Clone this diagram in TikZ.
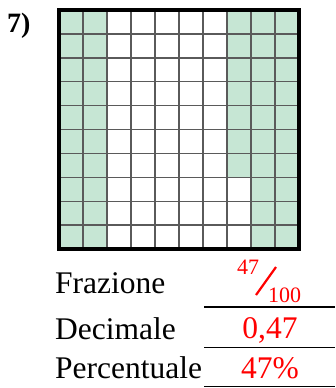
\documentclass[tikz,border=0pt]{standalone}
\usepackage{fontspec}
\setmainfont{Liberation Serif}
\definecolor{cellgreen}{RGB}{198,230,212}
\definecolor{gridgray}{RGB}{90,90,90}
\begin{document}
\begin{tikzpicture}[x=1pt,y=-1pt,
  lbl/.style={anchor=base west,inner sep=0pt,font=\fontsize{31.5}{31.5}\selectfont},
  val/.style={anchor=base,inner sep=0pt,text=red,font=\fontsize{31.5}{31.5}\selectfont},
  small/.style={anchor=base west,inner sep=0pt,text=red,font=\fontsize{22}{22}\selectfont},
  rule/.style={line width=1.5pt,black}]
\useasboundingbox (0,0) rectangle (335,388);
% shaded cells
\fill[cellgreen] (59,10) rectangle (107,249);
\fill[cellgreen] (227,10) rectangle (299,178);
\fill[cellgreen] (251,178) rectangle (299,249);
% grid lines
\foreach \i in {1,...,9} {
  \draw[gridgray,line width=1.4pt] (59+24*\i,10) -- (59+24*\i,249);
  \draw[gridgray,line width=1.4pt] (59,10+23.9*\i) -- (299,10+23.9*\i);
}
\draw[black,line width=4pt] (59,10) rectangle (299,249);
% number
\node[anchor=base west,inner sep=0pt,font=\fontsize{28}{28}\selectfont\bfseries] (num) at (7,32) {7)};
% labels
\node[lbl] (fr) at (55,293) {Frazione};
\node[lbl] (de) at (55,339) {Decimale};
\node[lbl] (pe) at (55,378) {Percentuale};
% values
\node[small] (n47) at (237,274) {47};
\node[small] (n100) at (268,302) {100};
\draw[red,line width=2.2pt] (256,295) -- (276,267);
\node[val] (v1) at (270,338) {0,47};
\node[val] (v2) at (270,378) {47\%};
% rules
\coordinate (r1a) at (204,307); \coordinate (r1b) at (335,307);
\coordinate (r2a) at (204,347.5); \coordinate (r2b) at (335,347.5);
\coordinate (r3a) at (204,386.5); \coordinate (r3b) at (335,386.5);
\draw[rule] (r1a) -- (r1b);
\draw[rule] (r2a) -- (r2b);
\draw[rule] (r3a) -- (r3b);
\end{tikzpicture}
\end{document}
